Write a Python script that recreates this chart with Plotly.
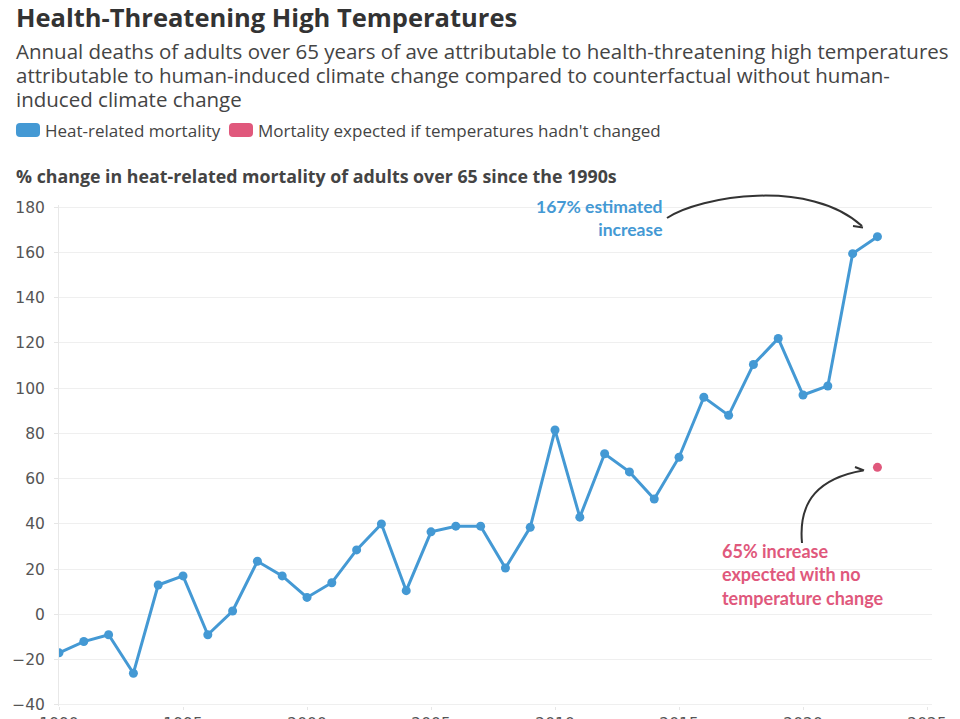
import plotly.graph_objects as go

# Data
years = list(range(1990, 2024))
heat_mortality = [-17, -12, -9, -26, 13, 17, -9, 1.5, 23.5, 17,
                  7.5, 14, 28.5, 40, 10.5, 36.5, 39, 39, 20.5, 38.5,
                  81.5, 43, 71, 63, 51, 69.5, 96, 88, 110.5, 122,
                  97, 101, 159.5, 167]
counterfactual_year = [2023]
counterfactual_value = [65]

y_ticks = [-40, -20, 0, 20, 40, 60, 80, 100, 120, 140, 160, 180]
x_ticks = [1990, 1995, 2000, 2005, 2010, 2015, 2020, 2025]

subtitle_lines = [
    "Annual deaths of adults over 65 years of ave attributable to health-threatening high temperatures",
    "attributable to human-induced climate change compared to counterfactual without human-",
    "induced climate change",
]

BLUE = "#4499d4"
PINK = "#e0587c"
FONT = "Open Sans"
NOTE_FONT = "Lato"
TICK_FONT = "DejaVu Sans"

# the page body adds an 8px margin, so layout pixels are shifted by it
OFF = 8
W, H = 960, 719
# plot area wanted on screen: x 59..932, y 205..706
M_L, M_R = 59 - OFF, W - (932 - OFF)
M_T, M_B = 205 - OFF, H - (706 - OFF)
PW, PH = W - M_L - M_R, H - M_T - M_B


def px(x):
    return (x - OFF - M_L) / PW


def py(y):
    return (H - M_B - (y - OFF)) / PH


def pt(x, y):
    return f"{px(x):.5f},{py(y):.5f}"


def path(points, cmd="L"):
    pts = [pt(x, y) for x, y in points]
    return "M " + pts[0] + " " + cmd + " " + " ".join(pts[1:])


def rounded_rect(x0, y0, x1, y1, r=4):
    return (f"M {pt(x0 + r, y0)} L {pt(x1 - r, y0)} Q {pt(x1, y0)} {pt(x1, y0 + r)} "
            f"L {pt(x1, y1 - r)} Q {pt(x1, y1)} {pt(x1 - r, y1)} "
            f"L {pt(x0 + r, y1)} Q {pt(x0, y1)} {pt(x0, y1 - r)} "
            f"L {pt(x0, y0 + r)} Q {pt(x0, y0)} {pt(x0 + r, y0)} Z")


fig = go.Figure()

fig.add_trace(go.Scatter(
    x=years, y=heat_mortality,
    mode="lines+markers",
    line=dict(color=BLUE, width=3),
    marker=dict(color=BLUE, size=9),
    name="Heat-related mortality",
    showlegend=False,
))

fig.add_trace(go.Scatter(
    x=counterfactual_year, y=counterfactual_value,
    mode="markers",
    marker=dict(color=PINK, size=9),
    name="Mortality expected if temperatures hadn't changed",
    showlegend=False,
))

annotations = [
    dict(x=px(14), y=py(17), text="<b>Health-Threatening High Temperatures</b>",
         font=dict(family=FONT, size=25.5, color="#333333")),
    dict(x=px(43), y=py(130), text="Heat-related mortality",
         font=dict(family=FONT, size=17, color="#444444")),
    dict(x=px(256), y=py(130), text="Mortality expected if temperatures hadn't changed",
         font=dict(family=FONT, size=17, color="#444444")),
    dict(x=px(14), y=py(176),
         text="<b>% change in heat-related mortality of adults over 65 since the 1990s</b>",
         font=dict(family=FONT, size=17.8, color="#444444")),
    dict(x=px(664), y=py(218), text="<b>167% estimated<br>increase</b>",
         font=dict(family=NOTE_FONT, size=17.5, color=BLUE), align="right", xanchor="right"),
    dict(x=px(720), y=py(574), text="<b>65% increase<br>expected with no<br>temperature change</b>",
         font=dict(family=NOTE_FONT, size=18, color=PINK), align="left"),
]
for i, line in enumerate(subtitle_lines):
    annotations.append(dict(x=px(14), y=py(51 + 24 * i), text=line,
                            font=dict(family=FONT, size=20.5, color="#444444")))
for a in annotations:
    a.setdefault("xanchor", "left")
    a.update(xref="paper", yref="paper", yanchor="middle", showarrow=False)

arrow = dict(color="#333333", width=2)
shapes = [
    # legend swatches
    dict(type="path", path=rounded_rect(16, 123, 40, 137), fillcolor=BLUE, line=dict(width=0)),
    dict(type="path", path=rounded_rect(229, 123, 253, 137), fillcolor=PINK, line=dict(width=0)),
    # curved arrow to the 2023 value
    dict(type="path", path=path([(667, 218), (700, 196), (810, 178), (862, 226)], "C"),
         line=arrow),
    dict(type="path", path=path([(853, 226), (863, 227.5), (860, 218)]), line=arrow),
    # curved arrow to the counterfactual point
    dict(type="path", path=path([(802, 543), (798, 500), (820, 478), (863, 470.5)], "C"),
         line=arrow),
    dict(type="path", path=path([(855, 467), (864, 470.5), (857, 477)]), line=arrow),
]
for s in shapes:
    s.update(xref="paper", yref="paper", layer="above")

fig.update_layout(
    width=W, height=H,
    margin=dict(l=M_L, r=M_R, t=M_T, b=M_B, autoexpand=False),
    plot_bgcolor="white", paper_bgcolor="white",
    font=dict(family=FONT, color="#555555"),
    xaxis=dict(range=[1990, 2025.2], tickvals=x_ticks, showgrid=False,
               ticks="outside", ticklen=3, tickcolor="#e6e6e6",
               tickfont=dict(family=TICK_FONT, size=15.5, color="#555555"),
               zeroline=False, showline=False, automargin=False),
    yaxis=dict(range=[-40.5, 181], tickvals=y_ticks, gridcolor="#efefef",
               ticks="outside", ticklen=4, tickcolor="#e6e6e6",
               tickfont=dict(family=TICK_FONT, size=15.5, color="#555555"),
               zeroline=False, showline=True, linecolor="#e8e8e8",
               ticklabelstandoff=6, automargin=False),
    annotations=annotations,
    shapes=shapes,
    showlegend=False,
)

fig.write_html("out.html")
